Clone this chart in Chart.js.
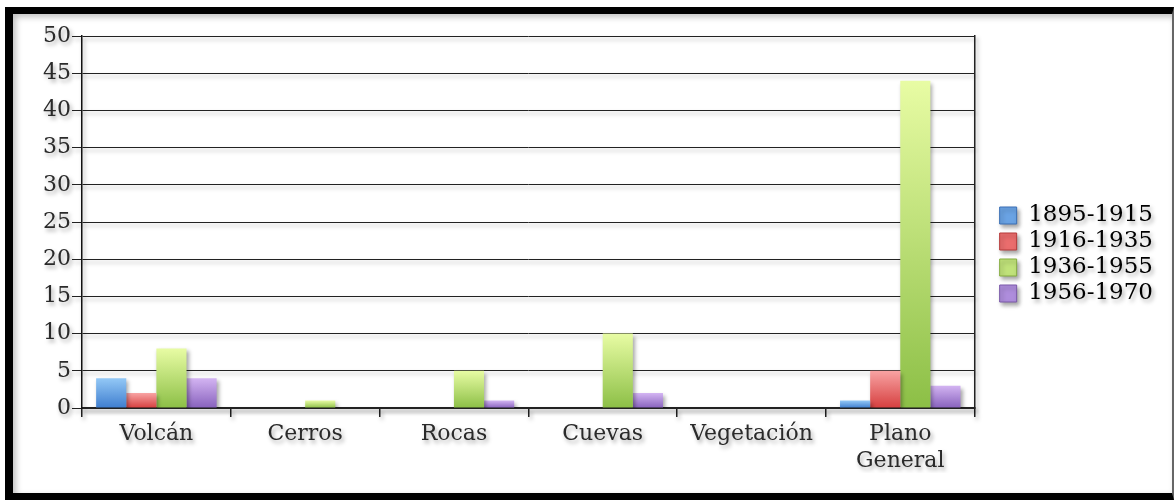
<!DOCTYPE html>
<html>
<head>
<meta charset="utf-8">
<script src="https://cdn.jsdelivr.net/npm/chart.js@4/dist/chart.umd.min.js"></script>
<style>
  html, body { margin: 0; padding: 0; background: #fff; }
  #frame {
    position: absolute; left: 5px; top: 7px;
    width: 1159px; height: 479px;
    border-top: 7px solid #000; border-left: 8px solid #000;
    border-bottom: 7px solid #000; border-right: 2px solid #666;
    box-shadow: inset 3px 3px 6px rgba(0,0,0,0.25);
  }
  #wrap { position: relative; width: 1159px; height: 479px; }
</style>
</head>
<body>
<div id="frame"><div id="wrap"><canvas id="c"></canvas></div></div>
<script>
const categories = ["Volcán", "Cerros", "Rocas", "Cuevas", "Vegetación", ["Plano", "General"]]
const periods    = ["1895-1915", "1916-1935", "1936-1955", "1956-1970"]
const s1895 = [4, 0, 0, 0, 0, 1]
const s1916 = [2, 0, 0, 0, 0, 5]
const s1936 = [8, 1, 5, 10, 0, 44]
const s1956 = [4, 0, 1, 2, 0, 3]
const yTicks = [0, 5, 10, 15, 20, 25, 30, 35, 40, 45, 50]

const COLORS = [
  { top: '#93c8f6', bottom: '#3f7ecf', mid: '#6aa3e4', edge: '#3a6fb5' },
  { top: '#f8a3a3', bottom: '#d63f3f', mid: '#ea6d6d', edge: '#b53a3a' },
  { top: '#e8fca4', bottom: '#8cbf46', mid: '#c0e27a', edge: '#84ad3f' },
  { top: '#d3b4f2', bottom: '#8862bd', mid: '#ae8ddc', edge: '#7a58a8' },
]

function barFill(c) {
  return ctx => {
    if (ctx.type !== 'data') return c.mid
    const y  = ctx.chart.scales.y
    const y0 = y.getPixelForValue(ctx.raw)
    const y1 = y.getPixelForValue(0)
    if (!isFinite(y0) || y0 === y1) return c.mid
    const g = ctx.chart.ctx.createLinearGradient(0, y0, 0, y1)
    g.addColorStop(0, c.top)
    g.addColorStop(1, c.bottom)
    return g
  }
}

const seriesData = [s1895, s1916, s1936, s1956]
const datasets = periods.map((p, i) => ({
  label: p,
  data: seriesData[i],
  backgroundColor: barFill(COLORS[i]),
  borderWidth: 0,
  categoryPercentage: 0.81,
  barPercentage: 1.0,
}))

// everything in the original has a soft drop shadow
const shadow = {
  id: 'shadow',
  beforeDraw(chart) {
    const ctx = chart.ctx
    ctx.shadowColor = 'rgba(0,0,0,0.35)'
    ctx.shadowBlur = 4
    ctx.shadowOffsetX = 2
    ctx.shadowOffsetY = 3
  },
  afterDraw(chart) {
    const ctx = chart.ctx
    ctx.shadowColor = 'rgba(0,0,0,0)'
    ctx.shadowBlur = 0
    ctx.shadowOffsetX = 0
    ctx.shadowOffsetY = 0
  },
}

const font = { family: 'DejaVu Serif', size: 22 }

new Chart(document.getElementById('c'), {
  type: 'bar',
  data: { labels: categories, datasets },
  plugins: [shadow],
  options: {
    responsive: true,
    maintainAspectRatio: false,
    animation: false,
    layout: { padding: { top: 22, right: 9, bottom: 20, left: 0 } },
    plugins: {
      tooltip: { enabled: false },
      legend: {
        position: 'right',
        labels: {
          color: '#1e1e1e',
          font: { family: 'DejaVu Serif', size: 23, lineHeight: 1.0 },
          boxWidth: 17, boxHeight: 17, padding: 3,
          generateLabels: chart => chart.data.datasets.map((d, i) => ({
            text: d.label,
            fillStyle: COLORS[i].mid,
            strokeStyle: COLORS[i].edge,
            lineWidth: 1,
            datasetIndex: i,
          })),
        },
      },
    },
    scales: {
      x: {
        grid: { drawOnChartArea: false, tickLength: 9, color: '#222', lineWidth: 1.5 },
        border: { color: '#222', width: 2 },
        ticks: { color: '#2a2a2a', font: { ...font, lineHeight: 1.23 }, padding: 4, maxRotation: 0 },
        afterFit: s => { s.height = 65 },
      },
      y: {
        min: 0, max: 50,
        afterBuildTicks: s => { s.ticks = yTicks.map(v => ({ value: v })) },
        grid: { color: '#222', lineWidth: 1, tickLength: 10 },
        border: { color: '#111', width: 1.5 },
        ticks: { color: '#2a2a2a', font, padding: 1 },
        afterFit: s => { s.width = 69 },
      },
      y2: {
        position: 'right',
        min: 0, max: 50,
        grid: { display: false },
        ticks: { display: false },
        border: { display: true, color: '#222', width: 1.5 },
        afterFit: s => { s.width = 22 },
      },
    },
  },
})
</script>
</body>
</html>
